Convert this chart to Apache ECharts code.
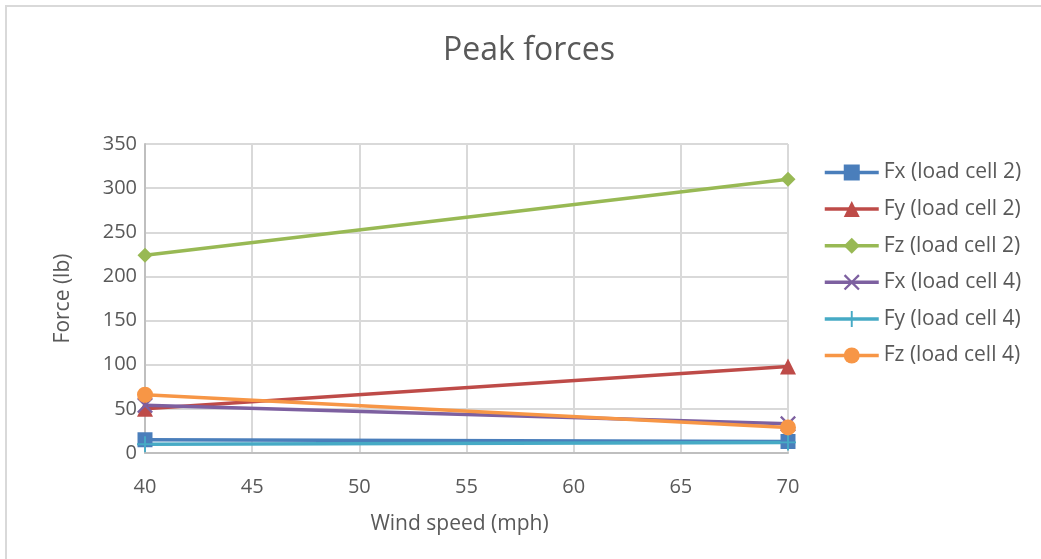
<!DOCTYPE html>
<html>
<head>
<meta charset="utf-8">
<script src="https://cdn.jsdelivr.net/npm/echarts@6/dist/echarts.min.js"></script>
<style>
  html, body { margin: 0; padding: 0; background: #fff; overflow: hidden; }
  #frame { position: absolute; left: 5px; top: 5px; width: 1100px; height: 600px; border-left: 2px solid #d9d9d9; border-top: 2px solid #d9d9d9; }
  #chart { position: absolute; left: 0; top: 0; width: 1041px; height: 559px; }
</style>
</head>
<body>
<div id="frame"></div>
<div id="chart"></div>
<script>
// Wind speeds (mph) and peak forces (lb) per load cell component
const windSpeeds = [40, 70];
const fxCell2 = [15, 13];
const fyCell2 = [50, 98];
const fzCell2 = [224, 310];
const fxCell4 = [54, 33];
const fyCell4 = [10, 12];
const fzCell4 = [66, 29];

const seriesNames = [
  'Fx (load cell 2)', 'Fy (load cell 2)', 'Fz (load cell 2)',
  'Fx (load cell 4)', 'Fy (load cell 4)', 'Fz (load cell 4)'
];
const seriesValues = [fxCell2, fyCell2, fzCell2, fxCell4, fyCell4, fzCell4];
const colors = ['#4a7ebb', '#be4b48', '#98b954', '#7d60a0', '#46aac5', '#f79646'];

// Thin cross and plus marker outlines
const crossPath = 'path://M1,0 L5,4 L9,0 L10,1 L6,5 L10,9 L9,10 L5,6 L1,10 L0,9 L4,5 L0,1 Z';
const plusPath = 'path://M4.4,0 L5.6,0 L5.6,4.4 L10,4.4 L10,5.6 L5.6,5.6 L5.6,10 L4.4,10 L4.4,5.6 L0,5.6 L0,4.4 L4.4,4.4 Z';
const symbols = ['rect', 'triangle', 'diamond', crossPath, plusPath, 'circle'];
const symbolSizes = [15, 16, 15, 16, 16, 16];

const font = '"Open Sans", "Liberation Sans", sans-serif';

const chart = echarts.init(document.getElementById('chart'));
chart.setOption({
  animation: false,
  color: colors,
  textStyle: { fontFamily: font },
  title: {
    text: 'Peak forces',
    left: 524, top: 30, textAlign: 'center',
    textStyle: { fontSize: 32, fontWeight: 'normal', color: '#595959', fontFamily: font }
  },
  grid: { left: 145, right: 253, top: 144, bottom: 106 },
  legend: {
    orient: 'vertical',
    left: 818, top: 154,
    itemWidth: 54, itemHeight: 20, itemGap: 9.6,
    lineStyle: { width: 3.5 },
    textStyle: { fontSize: 21, lineHeight: 27, color: '#595959', fontFamily: font },
    data: seriesNames
  },
  xAxis: {
    type: 'value', min: 40, max: 70, interval: 5,
    name: 'Wind speed (mph)', nameLocation: 'middle', nameGap: 61,
    nameTextStyle: { fontSize: 21, color: '#595959', padding: [0, 14, 0, 0] },
    axisLine: { lineStyle: { color: '#bfbfbf', width: 2 } },
    axisTick: { show: false },
    axisLabel: { fontSize: 20, color: '#595959', margin: 24 },
    splitLine: { lineStyle: { color: '#d9d9d9', width: 2 } }
  },
  yAxis: {
    type: 'value', min: 0, max: 350, interval: 50,
    name: 'Force (lb)', nameLocation: 'middle', nameGap: 71, nameRotate: 90,
    nameTextStyle: { fontSize: 21, color: '#595959' },
    axisLine: { show: true, lineStyle: { color: '#bfbfbf', width: 2 } },
    axisTick: { show: false },
    axisLabel: { fontSize: 20, color: '#595959', margin: 8 },
    splitLine: { lineStyle: { color: '#d9d9d9', width: 2 } }
  },
  series: seriesNames.map((name, i) => ({
    name: name,
    type: 'line',
    data: windSpeeds.map((x, j) => [x, seriesValues[i][j]]),
    symbol: symbols[i],
    symbolSize: symbolSizes[i],
    showAllSymbol: true,
    lineStyle: { width: 3.5, color: colors[i] },
    itemStyle: { color: colors[i], borderWidth: 0 }
  }))
});
</script>
</body>
</html>
